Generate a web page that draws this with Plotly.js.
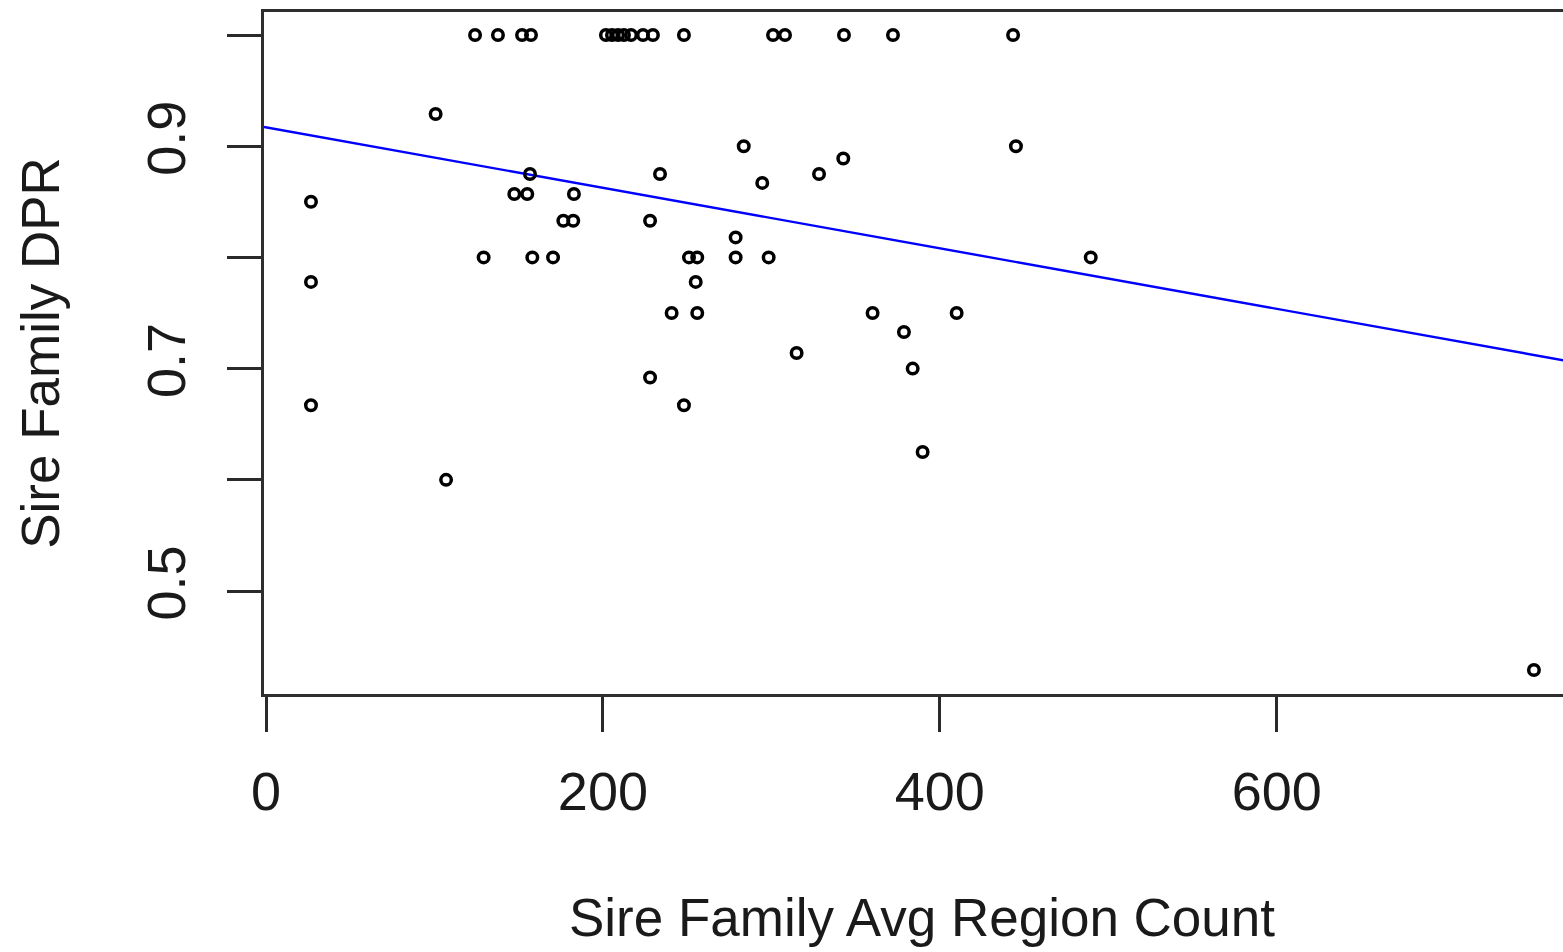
<!DOCTYPE html>
<html>
<head>
<meta charset="utf-8">
<script src="https://cdn.plot.ly/plotly-3.0.1.min.js"></script>
<style>
  html, body { margin: 0; padding: 0; overflow: hidden; background: #fff; width: 1563px; height: 952px; }
  #chart { width: 1600px; height: 952px; }
</style>
</head>
<body>
<div id="chart"></div>
<script>
// Sire family average region count (x) and sire family DPR (y)
const sireAvgRegionCount = [
  124.1, 137.7, 152.0, 157.3, 201.8, 205.4, 209.0, 212.5, 216.7, 223.8, 229.7, 248.1, 301.0, 308.1, 343.1, 372.2, 443.5,
  26.7, 26.7, 26.7, 100.7, 106.9, 129.2, 147.4, 155.1, 156.7, 158.1, 170.4, 176.5, 182.4, 182.8,
  228.0, 228.0, 233.9, 240.8, 248.1, 251.1, 256.0, 255.1, 256.0, 278.8, 278.8, 283.6, 294.6, 298.4,
  315.0, 328.3, 342.7, 360.1, 378.7, 383.9, 389.8, 410.0, 445.2, 489.6, 752.7
];
const sireFamilyDPR = [
  1.0, 1.0, 1.0, 1.0, 1.0, 1.0, 1.0, 1.0, 1.0, 1.0, 1.0, 1.0, 1.0, 1.0, 1.0, 1.0, 1.0,
  0.850, 0.778, 0.667, 0.929, 0.600, 0.800, 0.857, 0.857, 0.875, 0.800, 0.800, 0.833, 0.833, 0.857,
  0.833, 0.692, 0.875, 0.750, 0.667, 0.800, 0.800, 0.778, 0.750, 0.818, 0.800, 0.900, 0.867, 0.800,
  0.714, 0.875, 0.889, 0.750, 0.733, 0.700, 0.625, 0.750, 0.900, 0.800, 0.429
];
// Fitted regression line (intercept, slope)
const fitIntercept = 0.917;
const fitSlope = -0.000272;

const xTickValues = [0, 200, 400, 600, 800];
const xTickLabels = ['0', '200', '400', '600', '800'];
const yTickValues = [0.5, 0.6, 0.7, 0.8, 0.9, 1.0];
const yTickLabels = ['0.5', '', '0.7', '', '0.9', ''];

const xRange = [-1.19, 780.05];
const yRange = [0.4074, 1.0207];

const fitX = [xRange[0], xRange[1]];
const fitY = fitX.map(function (x) { return fitIntercept + fitSlope * x; });

const points = {
  type: 'scatter',
  mode: 'markers',
  x: sireAvgRegionCount,
  y: sireFamilyDPR,
  marker: { symbol: 'circle-open', size: 10.5, color: '#000', line: { width: 3.5, color: '#000' } },
  hoverinfo: 'x+y'
};
const fitLine = {
  type: 'scatter',
  mode: 'lines',
  x: fitX,
  y: fitY,
  line: { color: '#0000ff', width: 2.4 },
  hoverinfo: 'skip'
};

const fontFamily = 'Liberation Sans, Arial, Helvetica, sans-serif';

const layout = {
  width: 1600,
  height: 952,
  margin: { l: 264, r: 20, t: 12, b: 258, pad: 0 },
  paper_bgcolor: '#ffffff',
  plot_bgcolor: '#ffffff',
  showlegend: false,
  font: { family: fontFamily, size: 54, color: '#1a1a1a' },
  xaxis: {
    range: xRange,
    tickmode: 'array',
    tickvals: xTickValues,
    ticktext: xTickLabels,
    ticks: 'outside',
    ticklen: 35,
    tickwidth: 3,
    tickcolor: '#2a2a2a',
    ticklabelstandoff: 13,
    showline: true,
    linecolor: '#2e2e2e',
    linewidth: 3,
    mirror: true,
    showgrid: false,
    zeroline: false,
    tickfont: { family: fontFamily, size: 54, color: '#1a1a1a' },
    title: { text: 'Sire Family Avg Region Count', font: { family: fontFamily, size: 53, color: '#1a1a1a' }, standoff: 80 },
    automargin: 'bottom'
  },
  yaxis: {
    range: yRange,
    tickmode: 'array',
    tickvals: yTickValues,
    ticktext: yTickLabels,
    tickangle: -90,
    ticks: 'outside',
    ticklen: 34,
    tickwidth: 3,
    tickcolor: '#2a2a2a',
    ticklabelstandoff: 20,
    showline: true,
    linecolor: '#2e2e2e',
    linewidth: 3,
    mirror: false,
    showgrid: false,
    zeroline: false,
    tickfont: { family: fontFamily, size: 54, color: '#1a1a1a' },
    title: { text: 'Sire Family DPR', font: { family: fontFamily, size: 53, color: '#1a1a1a' }, standoff: 60 },
    automargin: 'left'
  }
};

Plotly.newPlot('chart', [fitLine, points], layout, { displayModeBar: false, staticPlot: true });
</script>
</body>
</html>
